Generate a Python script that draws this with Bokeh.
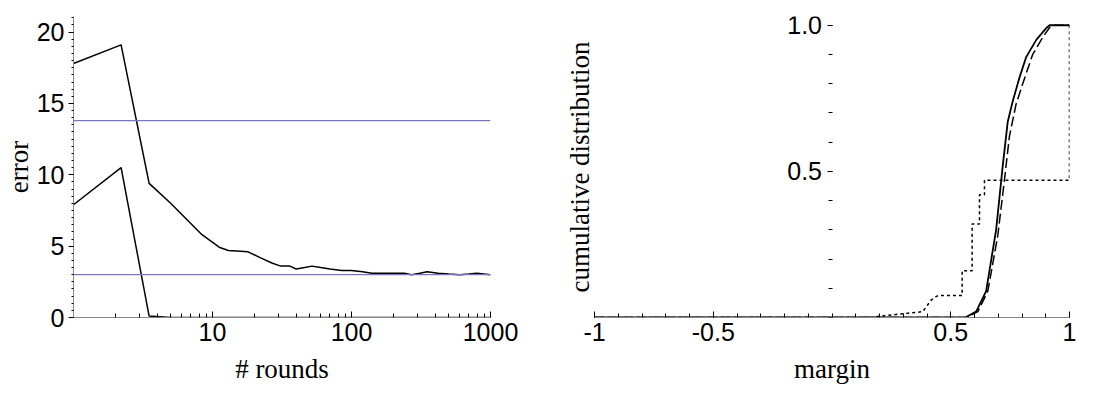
from bokeh.plotting import figure
from bokeh.layouts import row
from bokeh.models import LinearAxis, FixedTicker, Range1d, Span, PrintfTickFormatter
from bokeh.embed import file_html
from bokeh.resources import INLINE

# left panel: error vs rounds
test_x = [1, 2.2, 3.5, 5, 8.4, 11.3, 13, 18, 22, 27, 31, 36, 40, 46, 52, 60, 70, 85, 100, 120, 140, 160, 200, 240, 270, 310, 350, 420, 500, 600, 700, 800, 1000]
test_y = [17.8, 19.1, 9.4, 8.0, 5.8, 4.9, 4.7, 4.6, 4.2, 3.8, 3.6, 3.6, 3.4, 3.5, 3.6, 3.5, 3.4, 3.3, 3.3, 3.2, 3.1, 3.1, 3.1, 3.1, 3.0, 3.1, 3.2, 3.1, 3.05, 3.0, 3.05, 3.1, 3.0]
train_x = [1, 2.2, 3.5, 5, 1000]
train_y = [7.9, 10.5, 0.1, 0.0, 0.0]
hlines = [13.8, 3.0]
round_ticks = [10, 100, 1000]
round_minor = [m * d for d in (1, 10, 100) for m in range(2, 10)]

# right panel: margin distributions
solid_x = [-1, 0.561, 0.607, 0.649, 0.691, 0.719, 0.74, 0.761, 0.789, 0.817, 0.86, 0.902, 0.916, 1.0]
solid_y = [0, 0, 0.02, 0.09, 0.3, 0.52, 0.67, 0.74, 0.82, 0.89, 0.95, 0.99, 1.0, 1.0]
dash_x = [-1, 0.565, 0.614, 0.656, 0.698, 0.726, 0.747, 0.775, 0.803, 0.845, 0.888, 0.923, 1.0]
dash_y = [0, 0, 0.02, 0.09, 0.28, 0.47, 0.62, 0.73, 0.80, 0.90, 0.96, 1.0, 1.0]
dot_x = [-1, 0.165, 0.207, 0.382, 0.418, 0.446, 0.548, 0.548, 0.590, 0.590, 0.621, 0.621, 0.642, 0.642, 1.0, 1.0]
dot_y = [0, 0, 0.005, 0.02, 0.06, 0.075, 0.075, 0.16, 0.16, 0.32, 0.32, 0.42, 0.42, 0.47, 0.47, 1.0]
margin_ticks = [-1, -0.5, 0.5, 1]
margin_labels = {-1: "-1", -0.5: "-0.5", 0.5: "0.5", 1: "1"}

SANS = "Liberation Sans"
SERIF = "Liberation Serif"


def style_axis(ax):
    ax.major_label_text_font = SANS
    ax.major_label_text_font_size = "25px"
    ax.major_label_text_color = "black"
    ax.axis_label_text_font = SERIF
    ax.axis_label_text_font_size = "27px"
    ax.axis_label_text_font_style = "normal"
    ax.axis_label_text_color = "black"
    ax.axis_line_color = "#888888"
    ax.major_tick_line_color = "black"
    ax.minor_tick_line_color = "black"


p1 = figure(width=530, height=403, x_axis_type="log", output_backend="svg", toolbar_location=None,
            x_range=Range1d(1, 1000), y_range=Range1d(0, 21.09),
            min_border_left=50, min_border_right=40, min_border_top=16, min_border_bottom=86)
p1.outline_line_color = None
p1.grid.visible = False
p1.line(test_x, test_y, color="black", line_width=1.5)
p1.line(train_x, train_y, color="black", line_width=1.5)
for h in hlines:
    p1.add_layout(Span(location=h, dimension="width", line_color="#7777bb", line_width=1.2))
xa = p1.xaxis[0]
style_axis(xa)
xa.axis_label = "# rounds"
xa.ticker = FixedTicker(ticks=round_ticks, minor_ticks=round_minor)
xa.major_label_overrides = {t: str(t) for t in round_ticks}
xa.major_tick_in = 6
xa.major_tick_out = 0
xa.minor_tick_in = 4
xa.minor_tick_out = 0
xa.axis_label_standoff = 10
ya = p1.yaxis[0]
style_axis(ya)
ya.axis_label = "error"
ya.axis_label_standoff = 0
ya.major_label_standoff = 4
ya.ticker = FixedTicker(ticks=[0, 5, 10, 15, 20], minor_ticks=[i * 0.5 for i in range(43)])
ya.major_tick_out = 5
ya.major_tick_in = 0
ya.minor_tick_out = 2
ya.minor_tick_in = 0

p2 = figure(width=559, height=403, output_backend="svg", toolbar_location=None,
            x_range=Range1d(-1, 1.0), y_range=Range1d(0, 1.03),
            min_border_left=64, min_border_right=20, min_border_top=16, min_border_bottom=86)
p2.outline_line_color = None
p2.grid.visible = False
p2.yaxis.visible = False
p2.line(solid_x, solid_y, color="black", line_width=1.8)
p2.line(dash_x, dash_y, color="black", line_width=1.5, line_dash="10 4")
p2.line(dot_x, dot_y, color="black", line_width=1.5, line_dash="3 3")
xb = p2.xaxis[0]
style_axis(xb)
xb.axis_label = "margin"
xb.ticker = FixedTicker(ticks=margin_ticks, minor_ticks=[-1 + i * 0.1 for i in range(21)])
xb.major_label_overrides = margin_labels
xb.major_tick_in = 6
xb.major_tick_out = 0
xb.minor_tick_in = 4
xb.minor_tick_out = 0
xb.axis_label_standoff = 10

lab = LinearAxis(axis_label="cumulative distribution", ticker=FixedTicker(ticks=[]),
                 major_tick_line_color=None, minor_tick_line_color=None, axis_line_color=None)
lab.axis_label_text_font = SERIF
lab.axis_label_text_font_size = "27px"
lab.axis_label_text_font_style = "normal"
lab.axis_label_text_color = "black"
lab.axis_label_standoff = 0
p2.add_layout(lab, "left")

yb = LinearAxis(fixed_location=0, ticker=FixedTicker(ticks=[0.5, 1.0], minor_ticks=[i * 0.1 for i in range(11)]),
                formatter=PrintfTickFormatter(format="%.1f"))
style_axis(yb)
yb.major_tick_out = 5
yb.major_tick_in = 0
yb.minor_tick_out = 4
yb.minor_tick_in = 0
yb.axis_line_color = None
p2.add_layout(yb, "left")

layout = row(p1, p2)
open("out.html", "w").write(file_html(layout, INLINE))
